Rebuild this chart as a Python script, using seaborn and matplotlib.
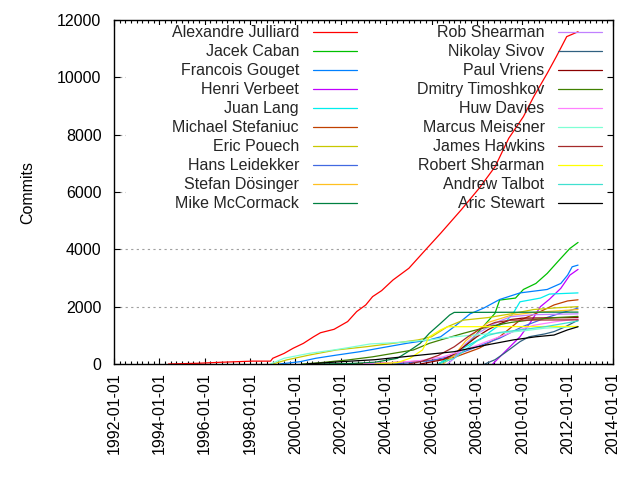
import numpy as np
import pandas as pd
import matplotlib
matplotlib.use("Agg")
import matplotlib.pyplot as plt
import matplotlib.dates as mdates
from matplotlib.patches import Rectangle
import seaborn as sns

authors = ["Alexandre Julliard", "Jacek Caban", "Francois Gouget", "Henri Verbeet",
           "Juan Lang", "Michael Stefaniuc", "Eric Pouech", "Hans Leidekker",
           "Stefan Dösinger", "Mike McCormack", "Rob Shearman", "Nikolay Sivov",
           "Paul Vriens", "Dmitry Timoshkov", "Huw Davies", "Marcus Meissner",
           "James Hawkins", "Robert Shearman", "Andrew Talbot", "Aric Stewart"]
colors = ["#ff0000", "#00c000", "#0080ff", "#c000ff", "#00eeee", "#c04000",
          "#c8c800", "#4169e1", "#ffc020", "#008040", "#c080ff", "#306080",
          "#8b0000", "#408000", "#ff80ff", "#7fffd4", "#a52a2a", "#ffff00",
          "#40e0d0", "#000000"]

julliard_t = [1994.4, 1995.7, 1996.7, 1998.1, 1998.9, 1999.0, 1999.5, 1999.9, 2000.35, 2000.8, 2001.1, 2001.7, 2002.3, 2002.7, 2003.1, 2003.4, 2003.8, 2004.3, 2005.0, 2005.8, 2006.4, 2007.3, 2008.1, 2008.8, 2009.4, 2010.05, 2010.5, 2011.1, 2011.5, 2011.96, 2012.46]
julliard_v = [0, 25, 60, 100, 100, 200, 370, 550, 720, 950, 1090, 1210, 1480, 1830, 2060, 2350, 2560, 2930, 3340, 4040, 4560, 5370, 6130, 6880, 7870, 8630, 9320, 10140, 10720, 11420, 11590]
caban_t = [2006.3, 2007.0, 2007.7, 2008.2, 2008.8, 2009.0, 2009.7, 2010.05, 2010.6, 2011.1, 2011.6, 2012.1, 2012.46]
caban_v = [0, 300, 780, 1240, 1770, 2230, 2300, 2600, 2810, 3160, 3600, 4030, 4240]
gouget_t = [1999.3, 2000.2, 2000.9, 2001.8, 2002.85, 2003.9, 2004.9, 2005.9, 2006.4, 2007.0, 2007.7, 2008.3, 2009.0, 2009.9, 2011.1, 2011.7, 2012.0, 2012.2, 2012.46]
gouget_v = [0, 80, 200, 310, 430, 580, 720, 840, 950, 1300, 1750, 1950, 2250, 2480, 2600, 2810, 3100, 3390, 3450]
verbeet_t = [2008.7, 2009.2, 2009.9, 2010.4, 2010.8, 2011.2, 2011.7, 2012.1, 2012.46]
verbeet_v = [0, 400, 950, 1500, 2000, 2260, 2640, 3100, 3300]
lang_t = [2006.3, 2006.8, 2007.5, 2008.2, 2008.8, 2009.3, 2009.6, 2009.9, 2010.8, 2011.2, 2012.46]
lang_v = [0, 250, 600, 900, 1250, 1500, 1770, 2170, 2300, 2440, 2480]
stefaniuc_t = [2002.5, 2004.0, 2005.5, 2006.5, 2007.0, 2008.1, 2009.0, 2009.9, 2010.8, 2011.4, 2012.0, 2012.46]
stefaniuc_v = [0, 40, 100, 170, 230, 550, 950, 1530, 1830, 2060, 2200, 2240]
pouech_t = [1999.0, 1999.6, 2000.6, 2001.8, 2003.1, 2004.3, 2005.4, 2006.0, 2006.7, 2007.4, 2008.5, 2009.5, 2010.5, 2011.5, 2012.46]
pouech_v = [0, 140, 310, 490, 600, 720, 840, 950, 1300, 1530, 1620, 1750, 1900, 1960, 2000]
leidekker_t = [2004.3, 2005.0, 2006.0, 2007.0, 2008.0, 2009.0, 2010.0, 2011.0, 2011.8, 2012.46]
leidekker_v = [0, 40, 120, 300, 600, 900, 1300, 1600, 1800, 1950]
dosinger_t = [2006.5, 2007.0, 2007.5, 2008.0, 2008.5, 2009.5, 2010.5, 2011.5, 2012.46]
dosinger_v = [0, 300, 800, 1150, 1450, 1700, 1800, 1850, 1900]
mccormack_t = [2001.0, 2002.5, 2003.5, 2004.5, 2005.0, 2005.5, 2005.9, 2006.4, 2006.8, 2007.0, 2012.46]
mccormack_v = [0, 20, 60, 200, 450, 720, 1070, 1420, 1710, 1800, 1810]
rshearman_t = [2006.7, 2007.0, 2007.5, 2008.0, 2008.4, 2009.0, 2009.5, 2010.5, 2012.46]
rshearman_v = [0, 200, 700, 1050, 1240, 1500, 1650, 1720, 1750]
sivov_t = [2008.35, 2008.8, 2009.2, 2009.9, 2010.3, 2011.0, 2011.4, 2011.9, 2012.46]
sivov_v = [0, 150, 370, 780, 950, 1050, 1130, 1300, 1530]
vriens_t = [2005.5, 2006.5, 2007.0, 2007.5, 2008.0, 2008.5, 2009.0, 2009.5, 2010.0, 2012.46]
vriens_v = [0, 150, 350, 650, 950, 1200, 1400, 1550, 1600, 1620]
timoshkov_t = [2000.3, 2001.0, 2002.3, 2003.4, 2004.3, 2005.2, 2005.9, 2006.4, 2007.4, 2008.5, 2009.5, 2010.5, 2011.5, 2012.46]
timoshkov_v = [0, 40, 140, 250, 370, 490, 720, 840, 1070, 1300, 1450, 1550, 1620, 1660]
davies_t = [2003.0, 2004.5, 2005.5, 2006.5, 2007.5, 2008.5, 2009.5, 2010.5, 2011.5, 2012.46]
davies_v = [0, 60, 120, 250, 500, 800, 1100, 1350, 1480, 1570]
meissner_t = [1998.9, 1999.5, 2000.6, 2001.7, 2002.4, 2003.3, 2004.3, 2005.0, 2006.0, 2007.0, 2008.5, 2010.0, 2011.0, 2012.0, 2012.46]
meissner_v = [0, 200, 370, 490, 580, 700, 740, 780, 850, 950, 1050, 1150, 1250, 1290, 1300]
hawkins_t = [2005.0, 2005.6, 2006.3, 2007.0, 2007.6, 2008.2, 2008.8, 2009.5, 2012.46]
hawkins_v = [0, 100, 300, 600, 950, 1250, 1450, 1530, 1540]
roshearman_t = [2003.5, 2004.5, 2005.05, 2005.6, 2005.9, 2006.4, 2006.7, 2012.46]
roshearman_v = [0, 50, 200, 490, 950, 1190, 1300, 1310]
talbot_t = [2006.3, 2007.0, 2007.5, 2008.0, 2008.5, 2009.0, 2010.0, 2011.0, 2012.46]
talbot_v = [0, 200, 500, 800, 1000, 1100, 1200, 1300, 1500]
stewart_t = [2000.5, 2002.0, 2003.5, 2004.5, 2005.5, 2007.0, 2008.4, 2009.6, 2010.6, 2011.4, 2012.0, 2012.46]
stewart_v = [0, 80, 150, 230, 310, 430, 660, 840, 950, 1010, 1190, 1300]

series = [(julliard_t, julliard_v), (caban_t, caban_v), (gouget_t, gouget_v),
          (verbeet_t, verbeet_v), (lang_t, lang_v), (stefaniuc_t, stefaniuc_v),
          (pouech_t, pouech_v), (leidekker_t, leidekker_v), (dosinger_t, dosinger_v),
          (mccormack_t, mccormack_v), (rshearman_t, rshearman_v), (sivov_t, sivov_v),
          (vriens_t, vriens_v), (timoshkov_t, timoshkov_v), (davies_t, davies_v),
          (meissner_t, meissner_v), (hawkins_t, hawkins_v), (roshearman_t, roshearman_v),
          (talbot_t, talbot_v), (stewart_t, stewart_v)]


def to_date(y):
    yr = int(np.floor(y))
    return pd.Timestamp(year=yr, month=1, day=1) + pd.Timedelta(days=(y - yr) * 365.25)


rows = []
for name, (ts, vs) in zip(authors, series):
    for t, v in zip(ts, vs):
        rows.append({"date": to_date(t), "commits": v, "author": name})
df = pd.DataFrame(rows)

sns.set_theme(style="white")
plt.rcParams["font.family"] = ["Liberation Sans", "DejaVu Sans"]

FS = 11.5
fig = plt.figure(figsize=(6.4, 4.8), dpi=100)
ax = fig.add_axes([114 / 640, 116 / 480, 499 / 640, 344 / 480])

sns.lineplot(data=df, x="date", y="commits", hue="author", hue_order=authors,
             palette=dict(zip(authors, colors)), estimator=None, sort=False,
             legend=False, linewidth=0.9, ax=ax, zorder=2)
lines = list(ax.get_lines())

ax.set_xlim(pd.Timestamp("1992-01-01"), pd.Timestamp("2014-01-01"))
ax.set_ylim(0, 12000)
ax.set_yticks(np.arange(0, 12001, 2000))
ax.xaxis.set_major_locator(mdates.YearLocator(2))
ax.xaxis.set_minor_locator(mdates.MonthLocator(bymonth=[1, 4, 7, 10]))
ax.xaxis.set_major_formatter(mdates.DateFormatter("%Y-%m-%d"))
ax.set_xlabel("")
ax.set_ylabel("Commits", fontsize=FS, color="black", labelpad=16)

ax.set_axisbelow(True)
ax.grid(axis="y", color="#a0a0a0", linestyle=(0, (2, 3)), linewidth=0.8)
ax.grid(axis="x", visible=False)

for s in ax.spines.values():
    s.set_color("black")
    s.set_linewidth(1.0)

ax.tick_params(axis="both", which="both", direction="in", top=True, right=True,
               bottom=True, left=True, color="black", labelcolor="black", labelsize=FS)
ax.tick_params(axis="both", which="major", length=4, width=0.8)
ax.tick_params(axis="x", which="minor", length=2, width=0.8)
ax.tick_params(axis="y", which="major", pad=9)
ax.tick_params(axis="x", which="major", pad=6)
plt.setp(ax.get_xticklabels(), rotation=90)

ax.add_patch(Rectangle((0.024, 0.44), 0.962, 0.545, transform=ax.transAxes,
                       facecolor="white", edgecolor="none", zorder=1))

leg = ax.legend(lines, authors, ncol=2, loc="upper right",
                bbox_to_anchor=(0.978, 0.985), frameon=False, markerfirst=False,
                fontsize=FS, handlelength=2.75, handletextpad=0.85,
                columnspacing=3.8, labelspacing=0.25, borderpad=0, borderaxespad=0)
leg.set_zorder(5)

fig.savefig("out.png", dpi=100)
